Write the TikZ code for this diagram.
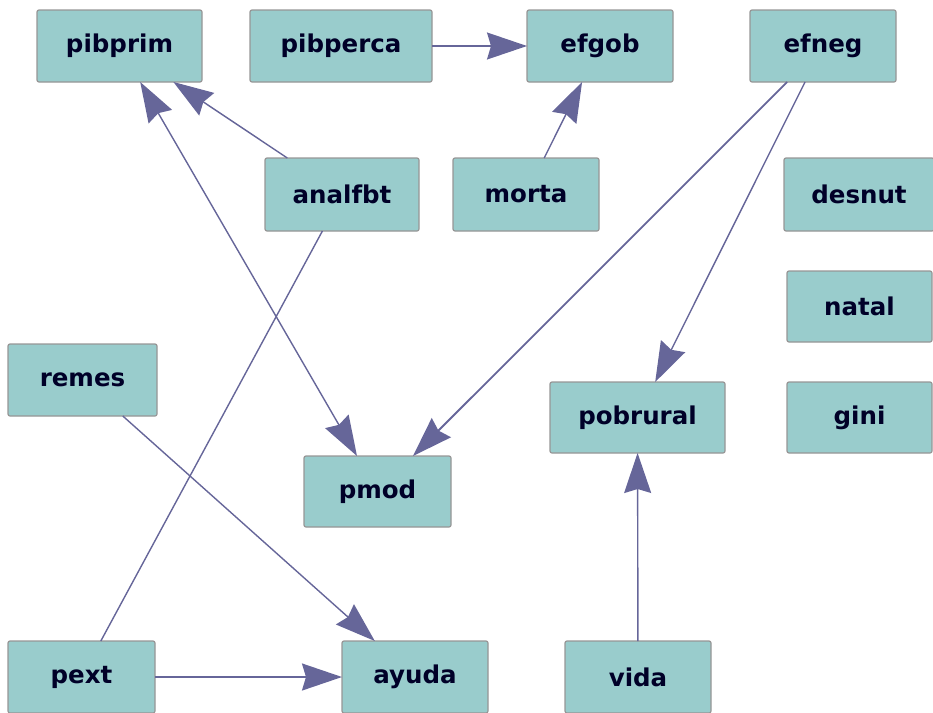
\documentclass[tikz,border=0pt]{standalone}
\usepackage{fontspec}
\setmainfont{DejaVu Sans}
\usetikzlibrary{arrows.meta}
\definecolor{nodefill}{RGB}{153,204,204}
\definecolor{nodeborder}{RGB}{150,150,150}
\definecolor{edgecol}{RGB}{102,102,153}
\definecolor{txtcol}{RGB}{0,0,40}
\tikzset{
  box/.style={rectangle, rounded corners=2pt, draw=nodeborder, line width=1.2pt,
    fill=nodefill, minimum width=146pt, minimum height=72pt, inner sep=0pt, outer sep=0pt,
    font=\fontsize{24.5}{29}\selectfont\bfseries, text=txtcol},
  conn/.style={draw=edgecol, line width=1.4pt,
    -{Stealth[length=40pt,width=27pt,inset=4pt,fill=edgecol]}},
  bothconn/.style={draw=edgecol, line width=1.4pt,
    {Stealth[length=40pt,width=27pt,inset=4pt,fill=edgecol]}-{Stealth[length=40pt,width=27pt,inset=4pt,fill=edgecol]}},
  plain/.style={draw=edgecol, line width=1.4pt}
}
\begin{document}
\begin{tikzpicture}[x=1pt,y=-1pt]
\useasboundingbox (0,0) rectangle (933,712);
\node[box, minimum width=165pt] (pibprim) at (119.5,46) {pibprim};
\node[box, minimum width=182pt] (pibperca) at (341,46) {pibperca};
\node[box] (efgob) at (600,46) {efgob};
\node[box] (efneg) at (823,46) {efneg};
\node[box, minimum width=154pt, minimum height=73pt] (analfbt) at (342,194.5) {analfbt};
\node[box, minimum height=73pt] (morta) at (526,194.5) {morta};
\node[box, minimum width=150pt, minimum height=73pt] (desnut) at (859,194.5) {desnut};
\node[box, minimum width=145pt, minimum height=71pt] (natal) at (859.5,306.5) {natal};
\node[box, minimum width=149pt] (remes) at (82.5,380) {remes};
\node[box, minimum width=175pt, minimum height=71pt] (pobrural) at (637.5,417.5) {pobrural};
\node[box, minimum width=145pt, minimum height=71pt] (gini) at (859.5,417.5) {gini};
\node[box, minimum width=147pt, minimum height=71pt] (pmod) at (377.5,491.5) {pmod};
\node[box, minimum width=147pt] (pext) at (81.5,677) {pext};
\node[box] (ayuda) at (415,677) {ayuda};
\node[box] (vida) at (638,677) {vida};

\draw[conn] (pibperca) -- (efgob);
\draw[conn] (morta) -- (efgob);
\draw[conn] (analfbt) -- (pibprim);
\draw[bothconn] (pibprim) -- (pmod);
\draw[plain] (pext) -- (analfbt);
\draw[conn, line width=1.8pt] (efneg) -- (pmod);
\draw[conn] (efneg) -- (pobrural);
\draw[conn] (remes) -- (ayuda);
\draw[conn, line width=1.8pt] (pext) -- (ayuda);
\draw[conn] (vida) -- (pobrural);
\end{tikzpicture}
\end{document}
